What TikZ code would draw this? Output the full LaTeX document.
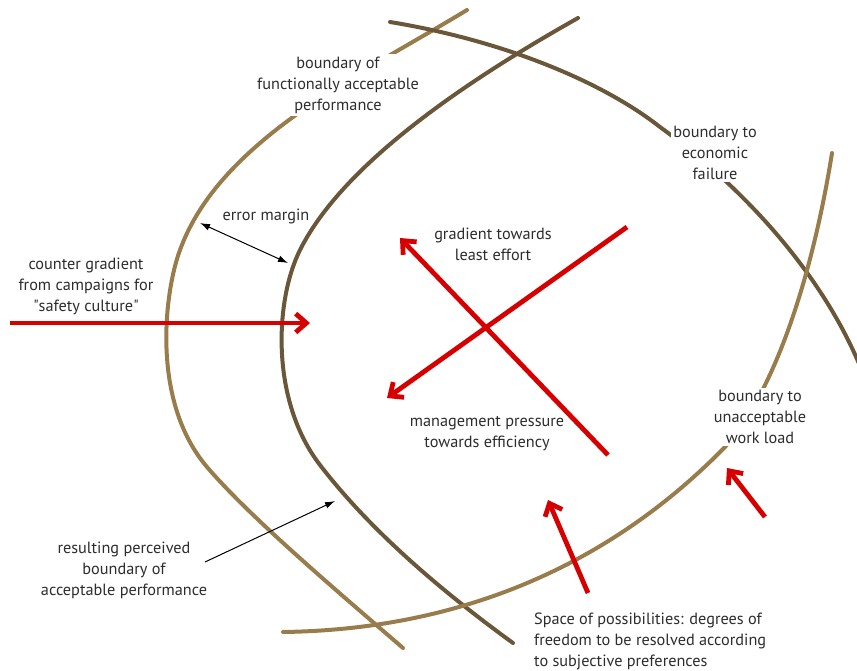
\documentclass[tikz,border=0pt]{standalone}
\usepackage{fontspec}
\setmainfont{PT Sans}
\usetikzlibrary{arrows.meta}
\definecolor{tanline}{RGB}{152,124,76}
\definecolor{brownline}{RGB}{106,86,56}
\definecolor{gradred}{RGB}{214,0,0}
\definecolor{lbltext}{RGB}{45,45,45}
\tikzset{every picture/.style={line width=0.75pt}}
\tikzset{
  tanbound/.style={draw=tanline,line width=3pt,line cap=round},
  brownbound/.style={draw=brownline,line width=3pt,line cap=round},
  gradarrow/.style={draw=gradred,line width=3.6pt,arrows={-Straight Barb[length=8pt,width=14pt]}},
  notearrow/.style={draw=black,line width=0.75pt,>={Latex[length=7.5pt,width=5pt]}},
  lbl/.style={fill=white,inner sep=2pt,text=lbltext,align=center,font=\fontsize{12.2}{15.75}\selectfont},
}

\begin{document}
\begin{tikzpicture}[x=0.75pt,y=0.75pt,yscale=-1,xscale=1]
\useasboundingbox (0,0) rectangle (857,671);

%Curve Lines: boundary of functionally acceptable performance
\draw[tanbound] (467,10) .. controls (360,75) and (220,140) .. (180,250) .. controls (165,290) and (150,400) .. (207,467) .. controls (250,517) and (330,585) .. (403,648) ;
%Curve Lines: resulting perceived boundary
\draw[brownbound] (578,18) .. controls (450,90) and (340,170) .. (300,250) .. controls (275,300) and (270,400) .. (320,465) .. controls (370,530) and (440,590) .. (513,643) ;
%Curve Lines: boundary to economic failure
\draw[brownbound] (390,22) .. controls (500,40) and (600,80) .. (660,127) .. controls (740,185) and (820,270) .. (860,366) ;
%Curve Lines: boundary to unacceptable work load
\draw[tanbound] (283,632) .. controls (430,630) and (590,585) .. (725,447) .. controls (780,385) and (815,260) .. (832,153) ;

% Text Node
\node[lbl] (perfA) at (338,85) {boundary of\\functionally acceptable\\performance};
% Text Node
\node[lbl] (econ) at (715,153) {boundary to\\economic\\failure};
% Text Node
\node[lbl,inner sep=0.5pt] (errm) at (266,216) {error margin};
% Text Node
\node[lbl] (counter) at (86,286) {counter gradient\\from campaigns for\\\textquotedbl safety culture\textquotedbl};
% Text Node
\node[lbl] (effort) at (493,244) {gradient towards\\least effort};
% Text Node
\node[lbl] (mgmt) at (487,434) {management pressure\\towards efficiency};
% Text Node
\node[lbl] (workload) at (760,417) {boundary to\\unacceptable\\work load};
% Text Node
\node[lbl] (perceived) at (124,570) {resulting perceived\\boundary of\\acceptable performance};
% Text Node
\node[lbl,anchor=west,align=left] (space) at (531,641) {Space of possibilities: degrees of\\freedom to be resolved according\\to subjective preferences};

% arrow ends
\coordinate (cgTail) at (10,323);
\coordinate (cgTip) at (310,323);
\coordinate (effTail) at (608,455);
\coordinate (effTip) at (400,238);
\coordinate (mgTail) at (627,227);
\coordinate (mgTip) at (387,398);
\coordinate (spTail) at (588,593);
\coordinate (spTip) at (548,500);
\coordinate (wlTail) at (765,517);
\coordinate (wlTip) at (727,468);
\coordinate (errOut) at (200,223);
\coordinate (errIn) at (288,263);
\coordinate (percTail) at (205,562);
\coordinate (percTip) at (335,501);

%Red gradients
\draw[gradarrow] (cgTail) -- (cgTip);
\draw[gradarrow] (effTail) -- (effTip);
\draw[gradarrow] (mgTail) -- (mgTip);
\draw[gradarrow] (spTail) -- (spTip);
\draw[gradarrow] (wlTail) -- (wlTip);

%Black notes
\draw[notearrow,<->] (errOut) -- (errIn);
\draw[notearrow,->] (percTail) -- (percTip);

\end{tikzpicture}
\end{document}
